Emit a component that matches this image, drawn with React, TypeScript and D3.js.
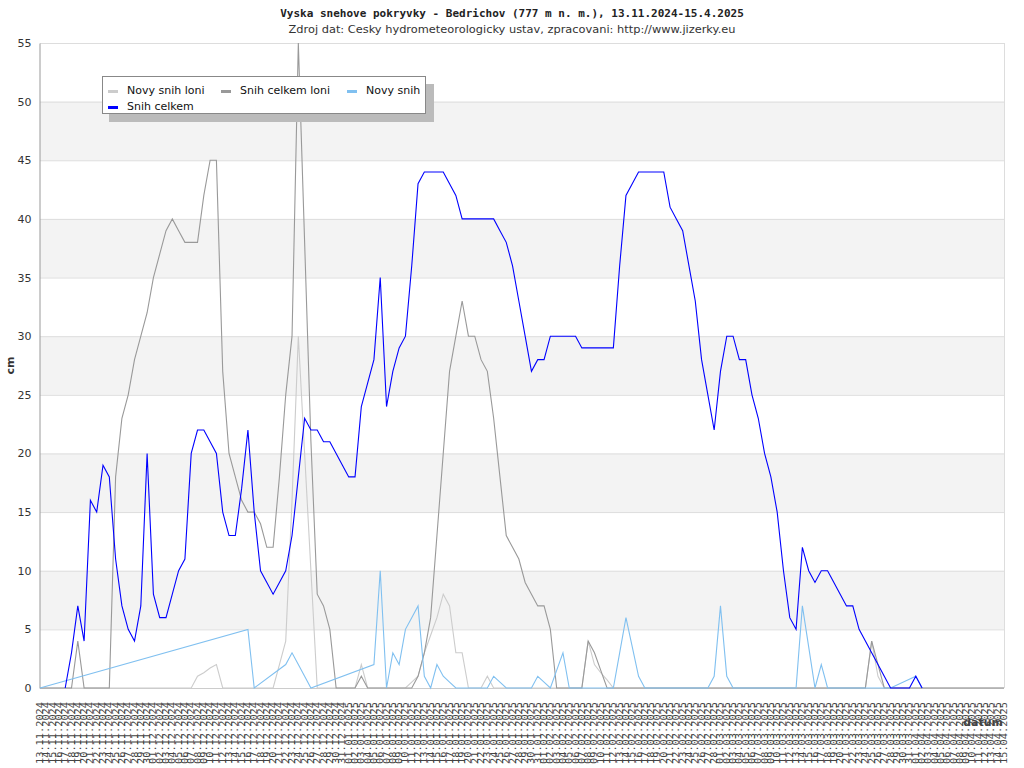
import { useEffect, useRef } from 'react'
import * as d3 from 'd3'

// day 0 = 13.11.2024, day 153 = 15.04.2025
const startDate = new Date(2024, 10, 13)
const endDate = new Date(2025, 3, 16)
const dateLabels = d3.timeDay.range(startDate, endDate).map(d3.timeFormat('%d.%m.%Y'))

const yTicks = [0, 5, 10, 15, 20, 25, 30, 35, 40, 45, 50, 55]

const N = null
// Novy snih loni
const novySnihLoni: (number | null)[] = [
  0, 0, 0, 0, 0, 0, 0, 0, 0, 0, 0, 0, 0, 0, 0, 0, 0, 0, 0, 0,
  0, 0, 0, 0, 0, 1, 1.3, 1.7, 2, 0, 0, 0, 0, 0, 0, 0, 0, 0, 2, 4,
  16, 30, 20, 10, 0, 0, 0, 0, 0, 0, 0, 2, 0, 0, 0, 0, 0, 0, 0, 0.5,
  1, 3, 4.5, 6, 8, 7, 3, 3, 0, 0, 0, 1, 0, 0, 0, 0, 0, 0, 0, 0,
  0, 0, 0, 0, 0, 0, 0, 4, 2, 1.3, 0.7, 0, 0, 0, 0, 0, 0, 0, 0, 0,
  0, 0, 0, 0, 0, 0, 0, 0, 0, 0, 0, 0, 0, 0, 0, 0, 0, 0, 0, 0,
  0, 0, 0, 0, 0, 0, 0, 0, 0, 0, 0, 0, 4, 1, 0, 0, 0, 0, 0, 0,
  0, 0, 0, 0, 0, 0, 0, 0, 0, 0, 0, 0, 0, 0,
]
// Snih celkem loni
const snihCelkemLoni: (number | null)[] = [
  0, 0, 0, 0, 0, 0, 4, 0, 0, 0, 0, 0, 18, 23, 25, 28, 30, 32, 35, 37,
  39, 40, 39, 38, 38, 38, 42, 45, 45, 27, 20, 18, 16, 15, 15, 14, 12, 12, 18, 25,
  30, 55, 38, 21, 8, 7, 5, 0, 0, 0, 0, 1, 0, 0, 0, 0, 0, 0, 0, 0,
  1, 3, 6, 13, 20, 27, 30, 33, 30, 30, 28, 27, 23, 18, 13, 12, 11, 9, 8, 7,
  7, 5, 0, 0, 0, 0, 0, 4, 3, 1.5, 0, 0, 0, 0, 0, 0, 0, 0, 0, 0,
  0, 0, 0, 0, 0, 0, 0, 0, 0, 0, 0, 0, 0, 0, 0, 0, 0, 0, 0, 0,
  0, 0, 0, 0, 0, 0, 0, 0, 0, 0, 0, 0, 4, 2, 0, 0, 0, 0, 0, 0,
  0, 0, 0, 0, 0, 0, 0, 0, 0, 0, 0, 0, 0, 0,
]
// Novy snih (missing days are joined by a straight line)
const novySnih: (number | null)[] = [
  0, N, N, N, N, N, N, N, N, N, N, N, N, N, N, N, N, N, N, N,
  N, N, N, N, N, N, N, N, N, N, N, N, N, 5, 0, N, N, N, N, 2,
  3, 2, 1, 0, N, N, N, N, N, N, N, N, N, 2, 10, 0, 3, 2, 5, 6,
  7, 1, 0, 2, 1, 0.5, 0, 0, 0, 0, 0, 0, 1, 0.5, 0, 0, 0, 0, 0, 1,
  0.5, 0, 1.5, 3, 0, 0, 0, 0, 0, 0, 0, 0, 3, 6, 3.5, 1, 0, 0, 0, 0,
  0, 0, 0, 0, 0, 0, 0, 1, 7, 1, 0, 0, 0, 0, 0, 0, 0, 0, 0, 0,
  0, 7, 3.5, 0, 2, 0, 0, 0, 0, 0, 0, 0, 0, 0, 0, 0, N, N, N, 1,
  0, N, N, N, N, N, N, N, N, N, N, N, N, N,
]
// Snih celkem
const snihCelkem: (number | null)[] = [
  N, N, N, N, 0, 3, 7, 4, 16, 15, 19, 18, 11, 7, 5, 4, 7, 20, 8, 6,
  6, 8, 10, 11, 20, 22, 22, 21, 20, 15, 13, 13, 17, 22, 15, 10, 9, 8, 9, 10,
  13, 18, 23, 22, 22, 21, 21, 20, 19, 18, 18, 24, 26, 28, 35, 24, 27, 29, 30, 36,
  43, 44, 44, 44, 44, 43, 42, 40, 40, 40, 40, 40, 40, 39, 38, 36, 33, 30, 27, 28,
  28, 30, 30, 30, 30, 30, 29, 29, 29, 29, 29, 29, 36, 42, 43, 44, 44, 44, 44, 44,
  41, 40, 39, 36, 33, 28, 25, 22, 27, 30, 30, 28, 28, 25, 23, 20, 18, 15, 10, 6,
  5, 12, 10, 9, 10, 10, 9, 8, 7, 7, 5, 4, 3, 2, 1, 0, 0, 0, 0, 1,
  0, N, N, N, N, N, N, N, N, N, N, N, N, N,
]

const series = [
  { name: 'Novy snih loni', values: novySnihLoni, color: '#cccccc' },
  { name: 'Snih celkem loni', values: snihCelkemLoni, color: '#999999' },
  { name: 'Novy snih', values: novySnih, color: '#80c0f0' },
  { name: 'Snih celkem', values: snihCelkem, color: '#0000ff' },
]

export default function App() {
  const svgRef = useRef<SVGSVGElement>(null)

  useEffect(() => {
    if (!svgRef.current) return
    const svg = d3.select(svgRef.current)
    svg.selectAll('*').remove()

    const left = 40
    const right = 1004
    const top = 43
    const bottom = 688

    const x = d3.scalePoint<string>().domain(dateLabels).range([left, right])
    const y = d3.scaleLinear().domain([0, 55]).range([bottom, top])

    svg.append('rect').attr('width', 1024).attr('height', 768).attr('fill', '#fff')

    // alternating bands
    const bands = yTicks.slice(0, -1).filter((_, k) => k % 2 === 1)
    svg.append('g')
      .selectAll('rect')
      .data(bands)
      .enter()
      .append('rect')
      .attr('x', left)
      .attr('y', d => y(d + 5))
      .attr('width', right - left)
      .attr('height', d => y(d) - y(d + 5))
      .attr('fill', '#f3f3f3')

    // grid lines
    svg.append('g')
      .selectAll('line')
      .data(yTicks)
      .enter()
      .append('line')
      .attr('x1', left)
      .attr('x2', right)
      .attr('y1', d => y(d) + 0.5)
      .attr('y2', d => y(d) + 0.5)
      .attr('stroke', '#dddddd')

    svg.append('line')
      .attr('x1', right + 0.5).attr('x2', right + 0.5)
      .attr('y1', top).attr('y2', bottom)
      .attr('stroke', '#dddddd')

    svg.append('line')
      .attr('x1', left).attr('x2', right)
      .attr('y1', bottom + 0.5).attr('y2', bottom + 0.5)
      .attr('stroke', '#cccccc')

    // y axis
    const yAxis = svg.append('g')
      .attr('transform', `translate(${left - 0.5},0)`)
      .call(d3.axisLeft(y).tickValues(yTicks).tickSize(0).tickPadding(8))
    yAxis.select('.domain').attr('stroke', '#999999')
    yAxis.selectAll('text')
      .style('font-family', 'DejaVu Sans')
      .style('font-size', '11px')
      .attr('fill', '#333')

    svg.append('text')
      .attr('transform', `translate(14,${(top + bottom) / 2}) rotate(-90)`)
      .attr('text-anchor', 'middle')
      .style('font-family', 'DejaVu Sans')
      .style('font-size', '11px')
      .style('font-weight', 'bold')
      .attr('fill', '#333')
      .text('cm')

    // x labels
    svg.append('g')
      .selectAll('text')
      .data(dateLabels)
      .enter()
      .append('text')
      .attr('transform', d => `translate(${(x(d) || 0) + 3},702) rotate(-90)`)
      .attr('text-anchor', 'end')
      .attr('textLength', 62)
      .attr('lengthAdjust', 'spacingAndGlyphs')
      .style('font-family', 'DejaVu Sans Mono')
      .style('font-size', '8.5px')
      .attr('fill', '#444')
      .text(d => d)

    svg.append('text')
      .attr('x', 1003)
      .attr('y', 726)
      .attr('text-anchor', 'end')
      .style('font-family', 'DejaVu Sans')
      .style('font-size', '11px')
      .style('font-weight', 'bold')
      .attr('fill', '#444')
      .text('datum')

    // lines
    const line = d3.line<{ i: number; v: number }>()
      .x(d => x(dateLabels[d.i]) || 0)
      .y(d => y(d.v))

    series.forEach(s => {
      const pts = s.values
        .map((v, i) => ({ i, v }))
        .filter(d => d.v !== null) as { i: number; v: number }[]
      svg.append('path')
        .datum(pts)
        .attr('d', line)
        .attr('fill', 'none')
        .attr('stroke', s.color)
        .attr('stroke-width', 1.1)
    })

    // titles
    svg.append('text')
      .attr('x', 512)
      .attr('y', 17)
      .attr('text-anchor', 'middle')
      .style('font-family', 'DejaVu Sans Mono')
      .style('font-size', '11px')
      .style('font-weight', 'bold')
      .attr('fill', '#222')
      .text('Vyska snehove pokryvky - Bedrichov (777 m n. m.), 13.11.2024-15.4.2025')

    svg.append('text')
      .attr('x', 512)
      .attr('y', 33)
      .attr('text-anchor', 'middle')
      .attr('textLength', 447)
      .attr('lengthAdjust', 'spacingAndGlyphs')
      .style('font-family', 'DejaVu Sans')
      .style('font-size', '11px')
      .attr('fill', '#333')
      .text('Zdroj dat: Cesky hydrometeorologicky ustav, zpracovani: http://www.jizerky.eu')

    // legend
    const lg = svg.append('g')
    lg.append('rect').attr('x', 109).attr('y', 84).attr('width', 325).attr('height', 38).attr('fill', '#bbbbbb')
    lg.append('rect').attr('x', 102.5).attr('y', 76.5).attr('width', 323).attr('height', 37)
      .attr('fill', '#fff').attr('stroke', '#888')
    const legendPos = [
      { x: 108, y: 90 },
      { x: 221, y: 90 },
      { x: 347, y: 90 },
      { x: 108, y: 106 },
    ]
    series.forEach((s, k) => {
      const p = legendPos[k]
      lg.append('line')
        .attr('x1', p.x).attr('x2', p.x + 10)
        .attr('y1', p.y + 1.5).attr('y2', p.y + 1.5)
        .attr('stroke', s.color).attr('stroke-width', 3)
      lg.append('text')
        .attr('x', p.x + 19)
        .attr('y', p.y + 4)
        .style('font-family', 'DejaVu Sans')
        .style('font-size', '11px')
        .attr('fill', '#111')
        .text(s.name)
    })
  }, [])

  return (
    <svg
      ref={svgRef}
      width={1024}
      height={768}
      style={{ position: 'absolute', left: 0, top: 0 }}
    />
  )
}
